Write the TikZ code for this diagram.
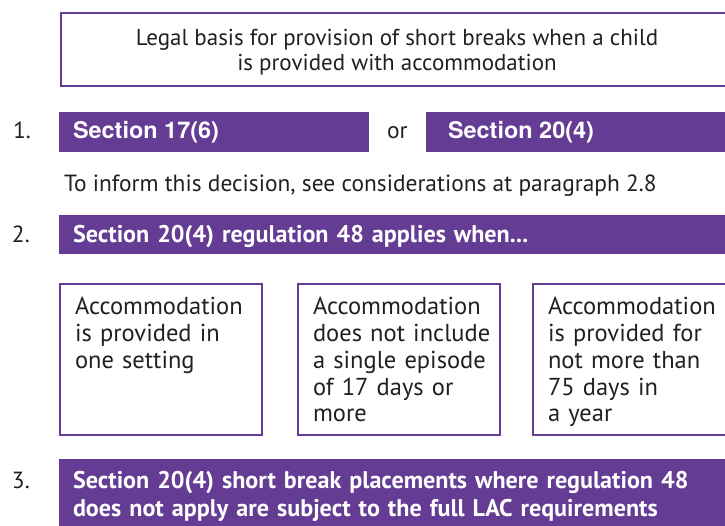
\documentclass[tikz,border=0pt]{standalone}
\usepackage{fontspec}
\setmainfont{PT Sans}
\newfontfamily\condfont{TeX Gyre Heros}[FakeStretch=1.02]
\usepackage{tikz}
\usetikzlibrary{positioning}
\definecolor{colorpurple}{HTML}{653C94}
\definecolor{colorink}{HTML}{231F20}
\tikzset{
  titlebox/.style={draw=colorpurple, line width=2.6pt, minimum width=700pt, minimum height=73pt, anchor=north west},
  secbar/.style={fill=colorpurple, minimum height=40pt, anchor=north west},
  condbox/.style={draw=colorpurple, line width=2.4pt, minimum width=202pt, minimum height=151pt, anchor=north west},
  bartext/.style={text=white, font=\fontsize{24.1}{28}\selectfont\bfseries, anchor=base west, text width=645pt},
  sectext/.style={text=white, font=\fontsize{23}{28}\selectfont\condfont\bfseries, anchor=base west},
  condtext/.style={text=colorink, font=\fontsize{24.5}{26.7}\selectfont, anchor=base west, text width=185pt},
  plaintext/.style={text=colorink, font=\fontsize{23.4}{26}\selectfont, anchor=base west}
}

\begin{document}
\begin{tikzpicture}[x=1pt, y=-1pt, inner sep=0pt, outer sep=0pt]
\clip (0,0) rectangle (725,526);
% heading
\node[titlebox] (title) at (61,13) {};
\node[text=colorink, font=\fontsize{23}{25}\selectfont, align=center] (titlelbl) at (397,52)
  {Legal basis for provision of short breaks when a child\\is provided with accommodation};
% step 1
\node[plaintext] (num1) at (13,139) {1.};
\node[secbar, minimum width=310pt] (sec176) at (59,112) {};
\node[sectext] (sec176lbl) at (73,139) {Section 17(6)};
\node[plaintext] (or) at (387,139) {or};
\node[secbar, minimum width=314pt] (sec204) at (426,112) {};
\node[sectext] (sec204lbl) at (448,139) {Section 20(4)};
\node[plaintext] (inform) at (64,192) {To inform this decision, see considerations at paragraph 2.8};
% step 2
\node[plaintext] (num2) at (12,243) {2.};
\node[secbar, minimum width=681pt, minimum height=39pt] (reg48) at (59,215) {};
\node[bartext] (reg48lbl) at (73,243) {Section 20(4) regulation 48 applies when...};
\node[condbox] (cond1) at (60,284) {};
\node[condbox] (cond2) at (298,284) {};
\node[condbox] (cond3) at (533,284) {};
\node[condtext] (cond1lbl) at (75,315) {Accommodation\\is provided in\\one setting};
\node[condtext] (cond2lbl) at (313,315) {Accommodation\\does not include\\a single episode\\of 17 days or\\more};
\node[condtext] (cond3lbl) at (548,315) {Accommodation\\is provided for\\not more than\\75 days in\\a year};
% step 3
\node[plaintext] (num3) at (12,488) {3.};
\node[secbar, minimum width=681pt, minimum height=70pt] (fulllac) at (59,459) {};
\node[bartext] (fulllaclbl) at (73,488)
  {Section 20(4) short break placements where regulation 48\\does not apply are subject to the full LAC requirements};
\end{tikzpicture}
\end{document}
